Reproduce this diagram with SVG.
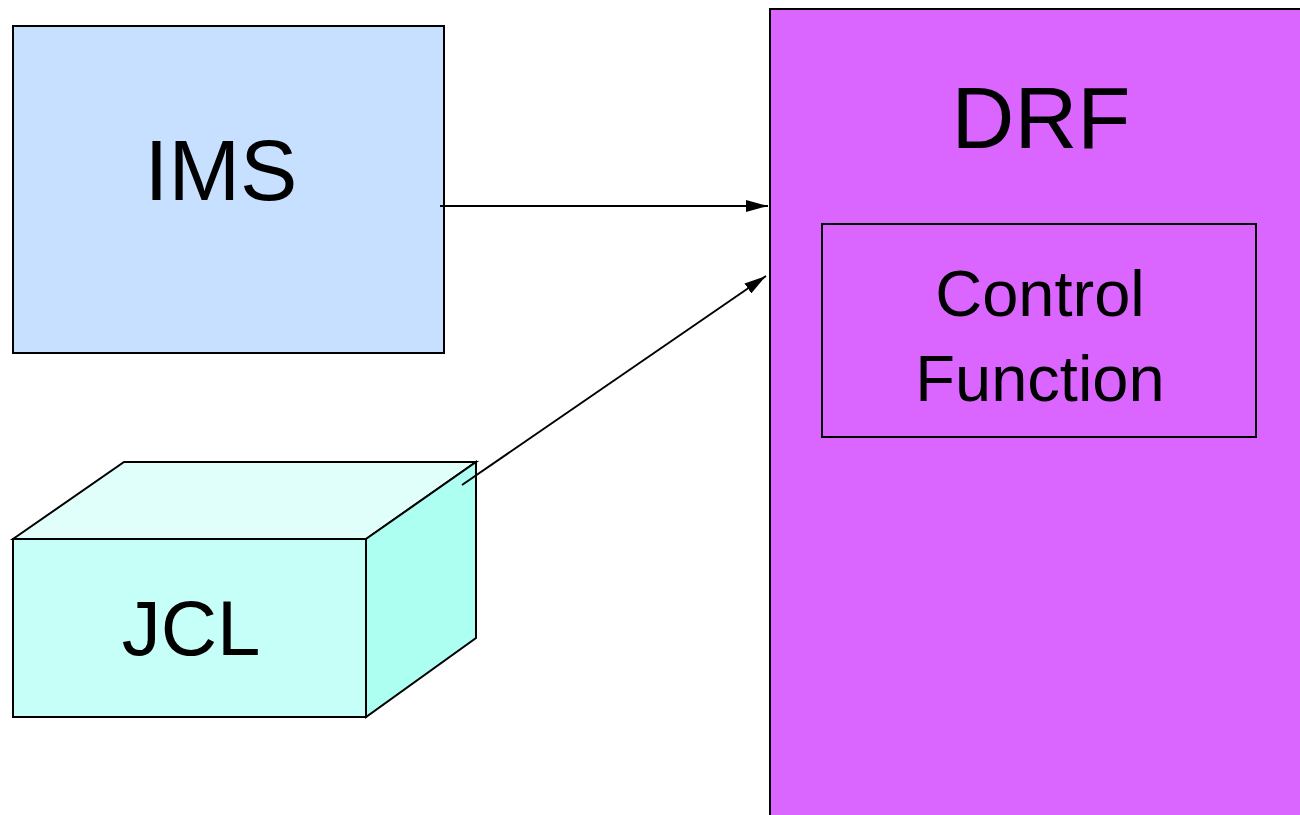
<svg xmlns="http://www.w3.org/2000/svg" width="1300" height="815" viewBox="0 0 1300 815">
<style>
text{font-family:"Liberation Sans",Arial,sans-serif;fill:#000;text-anchor:middle}
.s{stroke:#000;stroke-width:2;stroke-linejoin:miter}
</style>
<defs>
<marker id="ah" markerWidth="22" markerHeight="12" refX="22" refY="6" orient="auto" markerUnits="userSpaceOnUse" viewBox="0 0 22 12">
<path d="M0,0 L22,6 L0,12 Z" fill="#000"/>
</marker>
</defs>
<g id="drf">
<rect class="s" x="770" y="9" width="540" height="820" fill="#db66ff"/>
<text x="1041" y="148" font-size="87">DRF</text>
</g>
<g id="control">
<rect class="s" x="822" y="224" width="434" height="213" fill="#db66ff" stroke-width="1.5"/>
<text x="1040" y="316" font-size="65">Control</text>
<text x="1040" y="401" font-size="65">Function</text>
</g>
<g id="ims">
<rect class="s" x="13" y="26" width="431" height="327" fill="#c8e0ff"/>
<text x="221" y="200" font-size="86">IMS</text>
</g>
<g id="jcl">
<polygon class="s" points="13,539 124,462 476,462 366,539" fill="#e0fffa"/>
<polygon class="s" points="366,539 476,462 476,638 366,717" fill="#adfff1"/>
<rect class="s" x="13" y="539" width="353" height="178" fill="#c6fff8"/>
<text x="191" y="655" font-size="78">JCL</text>
</g>
<g id="connectors" stroke="#000" stroke-width="2" fill="none">
<line x1="440" y1="206" x2="768" y2="206" marker-end="url(#ah)"/>
<line x1="462" y1="485" x2="766" y2="276" marker-end="url(#ah)"/>
</g>
</svg>
